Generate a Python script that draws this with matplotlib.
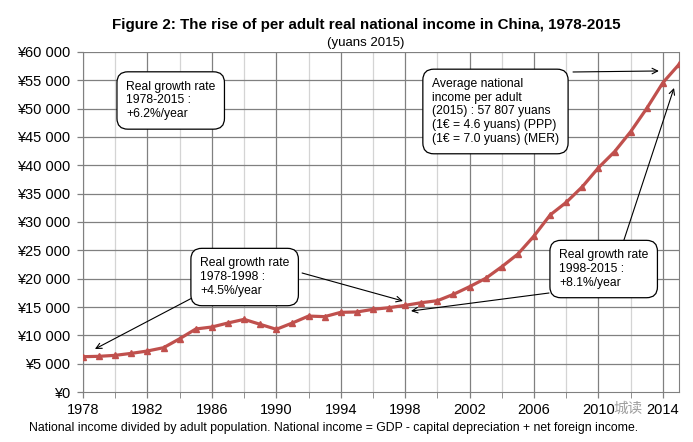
import numpy as np
import matplotlib
matplotlib.use("Agg")
import matplotlib.pyplot as plt
from matplotlib.ticker import FuncFormatter, FixedLocator

plt.rcParams['font.family'] = ['Liberation Sans', 'DejaVu Sans']

years = list(range(1978, 2016))
income = [6230, 6300, 6470, 6820, 7235, 7820, 9400, 11120, 11470, 12180,
          12820, 11940, 11060, 12180, 13400, 13300, 14060, 14120, 14590, 14880,
          15290, 15760, 16110, 17240, 18590, 20060, 22110, 24350, 27530, 31240,
          33470, 36230, 39580, 42410, 45940, 50060, 54580, 57807]

xticks = list(range(1978, 2015, 4))
xminor = list(range(1978, 2016, 2))
yticks = list(range(0, 60001, 5000))

title = "Figure 2: The rise of per adult real national income in China, 1978-2015"
subtitle = "(yuans 2015)"
footnote = ("National income divided by adult population. National income = GDP - "
            "capital depreciation + net foreign income.")

box_total = "Real growth rate\n1978-2015 :\n+6.2%/year"
box_early = "Real growth rate\n1978-1998 :\n+4.5%/year"
box_late = "Real growth rate\n1998-2015 :\n+8.1%/year"
box_avg = ("Average national\nincome per adult\n(2015) : 57 807 yuans\n"
           "(1€ = 4.6 yuans) (PPP)\n(1€ = 7.0 yuans) (MER)")

red = '#C0504D'

fig = plt.figure(figsize=(6.93, 4.42), dpi=100)
ax = fig.add_axes([0.1198, 0.1131, 0.8600, 0.7693])

# grid: darker at labelled years, lighter in between
for yr in xminor:
    c = '#808080' if yr in xticks else '#d4d4d4'
    ax.axvline(yr, color=c, lw=0.9, zorder=0)
for v in yticks[1:]:
    ax.axhline(v, color='#808080', lw=0.9, zorder=0)

ax.plot(years, income, color=red, lw=2.3, marker='^', markersize=4.5, zorder=3)

ax.set_xlim(1978, 2015)
ax.set_ylim(0, 60000)
ax.xaxis.set_major_locator(FixedLocator(xticks))
ax.xaxis.set_minor_locator(FixedLocator(xminor))
ax.yaxis.set_major_locator(FixedLocator(yticks))
ax.yaxis.set_major_formatter(FuncFormatter(
    lambda v, p: '¥' + format(int(v), ',').replace(',', ' ')))
ax.tick_params(axis='both', labelsize=10.5, colors='#808080', labelcolor='black',
               length=4, width=0.9)
ax.tick_params(axis='x', which='minor', length=4, colors='#808080')
ax.tick_params(axis='x', pad=4)
ax.tick_params(axis='y', pad=5)
ax.spines['top'].set_visible(False)
for s in ['left', 'bottom', 'right']:
    ax.spines[s].set_color('#808080')

fig.text(0.528, 0.943, title, ha='center', va='center', fontsize=10.9,
         fontweight='bold')
fig.text(0.528, 0.902, subtitle, ha='center', va='center', fontsize=9.5)
fig.text(0.042, 0.032, footnote, ha='left', va='center', fontsize=8.85)

bbox = dict(boxstyle='round,pad=0.75,rounding_size=0.9', fc='white', ec='black', lw=0.9)
arrow = dict(arrowstyle='->', color='black', lw=0.8, shrinkA=0, shrinkB=0)

kw = dict(fontsize=8.7, va='center', ha='left', bbox=bbox, linespacing=1.18, zorder=5)
ax.text(1980.67, 51440, box_total, **kw)
ax.text(1985.26, 20290, box_early, **kw)
ax.text(2007.55, 21700, box_late, **kw)
ax.text(1999.66, 49500, box_avg, **kw)

ax.annotate('', xy=(1978.74, 7590), xytext=(1984.77, 16590), arrowprops=arrow, zorder=4)
ax.annotate('', xy=(1997.86, 16060), xytext=(1991.6, 21000), arrowprops=arrow, zorder=4)
ax.annotate('', xy=(1998.36, 14290), xytext=(2006.93, 17470), arrowprops=arrow, zorder=4)
ax.annotate('', xy=(2014.69, 53650), xytext=(2011.52, 26290), arrowprops=arrow, zorder=4)
ax.annotate('', xy=(2013.75, 56650), xytext=(2008.42, 56470), arrowprops=arrow, zorder=4)

# watermark, between the last two tick labels
fig.text(0.906, 0.074, '城读', ha='center', va='center', fontsize=10.5, color='#a0a0a0',
         family=['Noto Sans CJK SC', 'DejaVu Sans'])

fig.savefig('out.png', dpi=100)
